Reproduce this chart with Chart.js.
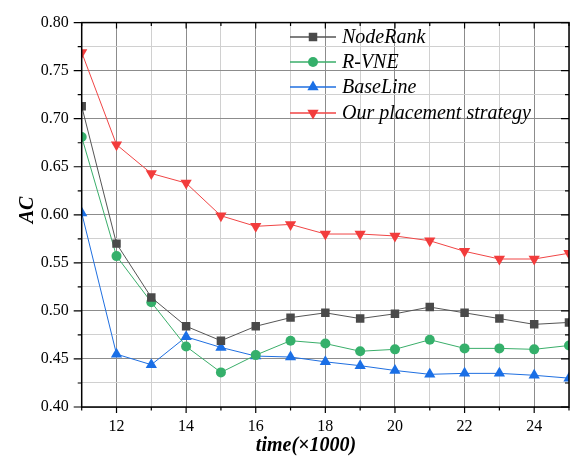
<!DOCTYPE html>
<html>
<head>
<meta charset="utf-8">
<script src="https://cdn.jsdelivr.net/npm/chart.js@4.4.0/dist/chart.umd.min.js"></script>
<style>
  html, body { margin: 0; padding: 0; background: #fff; }
  #wrap { width: 579px; height: 462px; }
</style>
</head>
<body>
<div id="wrap"><canvas id="miGrafico"></canvas></div>
<script>
// data
const times = [11, 12, 13, 14, 15, 16, 17, 18, 19, 20, 21, 22, 23, 24, 25];
const nodeRank = [0.713, 0.570, 0.514, 0.484, 0.469, 0.484, 0.493, 0.498, 0.492, 0.497, 0.504, 0.498, 0.492, 0.486, 0.488];
const rVne = [0.681, 0.557, 0.509, 0.463, 0.436, 0.454, 0.469, 0.466, 0.458, 0.460, 0.470, 0.461, 0.461, 0.460, 0.464];
const baseLine = [0.602, 0.455, 0.444, 0.473, 0.462, 0.453, 0.452, 0.447, 0.443, 0.438, 0.434, 0.435, 0.435, 0.433, 0.430];
const ourStrategy = [0.769, 0.673, 0.643, 0.633, 0.599, 0.588, 0.590, 0.580, 0.580, 0.578, 0.573, 0.562, 0.554, 0.554, 0.560];
const seriesNames = ['NodeRank', 'R-VNE', 'BaseLine', 'Our placement strategy'];

const serif = '"Liberation Serif", "Times New Roman", serif';

function pts(vals) {
    return vals.map((v, i) => ({ x: times[i], y: v }));
}

const datasets = [
    { label: seriesNames[0], data: pts(nodeRank), borderColor: '#555555', backgroundColor: '#4a4a4a',
      pointStyle: 'rect', pointRadius: 6, rotation: 0 },
    { label: seriesNames[1], data: pts(rVne), borderColor: '#3aae6a', backgroundColor: '#35b06b',
      pointStyle: 'circle', pointRadius: 5, rotation: 0 },
    { label: seriesNames[2], data: pts(baseLine), borderColor: '#1f6fe0', backgroundColor: '#1a6fe6',
      pointStyle: 'triangle', pointRadius: 6.5, rotation: 0 },
    { label: seriesNames[3], data: pts(ourStrategy), borderColor: '#f04545', backgroundColor: '#f23c3c',
      pointStyle: 'triangle', pointRadius: 6.5, rotation: 180 }
];
for (let d of datasets) {
    d.borderWidth = 1;
    d.pointBorderWidth = 0;
    d.pointBorderColor = d.backgroundColor;
    d.pointBackgroundColor = d.backgroundColor;
    d.tension = 0;
    d.clip = 0;
}

// frame, tick marks, legend and axis titles
const framePlugin = {
    id: 'frame',
    afterDraw(chart) {
        const ctx = chart.ctx;
        const a = chart.chartArea;
        const sx = chart.scales.x, sy = chart.scales.y;
        ctx.save();
        ctx.strokeStyle = '#000';
        ctx.lineWidth = 1.5;
        ctx.strokeRect(a.left, a.top, a.right - a.left, a.bottom - a.top);
        ctx.lineWidth = 1.2;
        ctx.beginPath();
        for (let t = 11; t <= 25; t++) {
            const px = sx.getPixelForValue(t);
            const len = t % 2 === 0 ? 6 : 3.5;
            ctx.moveTo(px, a.bottom); ctx.lineTo(px, a.bottom + len);
            ctx.moveTo(px, a.top); ctx.lineTo(px, a.top + len);
        }
        for (let k = 0; k <= 16; k++) {
            const v = 0.40 + k * 0.025;
            const py = sy.getPixelForValue(v);
            const len = k % 2 === 0 ? 8 : 4;
            ctx.moveTo(a.left, py); ctx.lineTo(a.left - len, py);
            ctx.moveTo(a.right, py); ctx.lineTo(a.right - len, py);
        }
        ctx.stroke();

        // legend inside the plot
        const lx0 = 290, lx1 = 336, tx = 342;
        const rows = [37, 62, 87, 113];
        ctx.font = 'italic 20px ' + serif;
        ctx.textBaseline = 'middle';
        ctx.textAlign = 'left';
        datasets.forEach((d, i) => {
            const yy = rows[i];
            ctx.strokeStyle = d.borderColor;
            ctx.lineWidth = 1.5;
            ctx.beginPath(); ctx.moveTo(lx0, yy); ctx.lineTo(lx1, yy); ctx.stroke();
            ctx.fillStyle = d.backgroundColor;
            Chart.helpers.drawPoint(ctx, {
                pointStyle: d.pointStyle, radius: d.pointRadius, rotation: d.rotation, borderWidth: 0
            }, (lx0 + lx1) / 2, yy);
            ctx.fillStyle = '#000';
            ctx.fillText(d.label, tx, yy + 1);
        });

        // axis titles
        ctx.fillStyle = '#000';
        ctx.font = 'bold italic 20px ' + serif;
        ctx.textAlign = 'center';
        ctx.fillText('time(\u00d71000)', 306, 446);
        ctx.translate(28, 210);
        ctx.rotate(-Math.PI / 2);
        ctx.fillText('AC', 0, 0);
        ctx.restore();
    }
};

const grafico = new Chart(document.getElementById('miGrafico'), {
    type: 'line',
    data: { datasets: datasets },
    options: {
        responsive: true,
        maintainAspectRatio: false,
        animation: false,
        layout: { padding: { left: 0, right: 7, top: 11, bottom: 0 } },
        plugins: { legend: { display: false }, tooltip: { enabled: false } },
        scales: {
            x: {
                type: 'linear',
                min: 11, max: 25,
                afterFit: s => { s.height = 55; },
                ticks: {
                    stepSize: 1,
                    autoSkip: false,
                    maxRotation: 0,
                    padding: 10,
                    color: '#000',
                    font: { family: serif, size: 16 },
                    callback: v => (v % 2 === 0 && v > 11 && v < 25) ? String(v) : ''
                },
                grid: {
                    drawTicks: false,
                    lineWidth: 1,
                    color: c => (c.tick && c.tick.value % 2 === 0) ? '#8c8c8c' : '#d0d0d0'
                },
                border: { display: false }
            },
            y: {
                min: 0.40, max: 0.80,
                afterFit: s => { s.width = 81.7; },
                ticks: {
                    stepSize: 0.025,
                    autoSkip: false,
                    padding: 13,
                    color: '#000',
                    font: { family: serif, size: 16 },
                    callback: v => {
                        const k = Math.round((v - 0.40) / 0.025);
                        return k % 2 === 0 ? v.toFixed(2) : '';
                    }
                },
                grid: {
                    drawTicks: false,
                    lineWidth: 1,
                    color: c => {
                        const k = Math.round((c.tick.value - 0.40) / 0.025);
                        return k % 2 === 0 ? '#8c8c8c' : '#d0d0d0';
                    }
                },
                border: { display: false }
            }
        }
    },
    plugins: [framePlugin]
});
</script>
</body>
</html>
